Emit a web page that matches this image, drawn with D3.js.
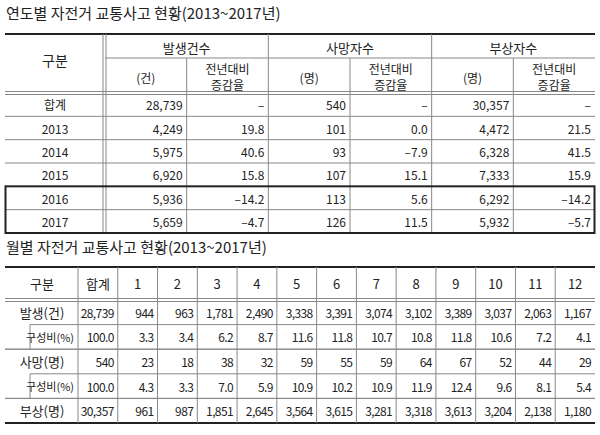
<!DOCTYPE html><html><head><meta charset="utf-8">
<script src="https://cdn.jsdelivr.net/npm/d3@7"></script>
<style>body{margin:0;background:#fff}text{font-family:"Noto Sans CJK KR","Noto Sans",sans-serif;fill:#222}</style></head><body>
<svg id="c" width="600" height="435"></svg>
<script>
// Table 1 data
const title1 = "연도별 자전거 교통사고 현황(2013~2017년)";
const rowLabels1 = ["합계","2013","2014","2015","2016","2017"];
const accidents = ["28,739","4,249","5,975","6,920","5,936","5,659"];
const accRate = ["–","19.8","40.6","15.8","–14.2","–4.7"];
const deaths = ["540","101","93","107","113","126"];
const deathRate = ["–","0.0","–7.9","15.1","5.6","11.5"];
const injuries = ["30,357","4,472","6,328","7,333","6,292","5,932"];
const injRate = ["–","21.5","41.5","15.9","–14.2","–5.7"];
const groups1 = ["발생건수","사망자수","부상자수"];
const units1 = ["(건)","(명)","(명)"];
// Table 2 data
const title2 = "월별 자전거 교통사고 현황(2013~2017년)";
const months = ["합계","1","2","3","4","5","6","7","8","9","10","11","12"];
const rowLabels2 = ["발생(건)","구성비(%)","사망(명)","구성비(%)","부상(명)"];
const mAcc = ["28,739","944","963","1,781","2,490","3,338","3,391","3,074","3,102","3,389","3,037","2,063","1,167"];
const mAccPct = ["100.0","3.3","3.4","6.2","8.7","11.6","11.8","10.7","10.8","11.8","10.6","7.2","4.1"];
const mDeath = ["540","23","18","38","32","59","55","59","64","67","52","44","29"];
const mDeathPct = ["100.0","4.3","3.3","7.0","5.9","10.9","10.2","10.9","11.9","12.4","9.6","8.1","5.4"];
const mInj = ["30,357","961","987","1,851","2,645","3,564","3,615","3,281","3,318","3,613","3,204","2,138","1,180"];

const svg = d3.select("#c");
const G="#888", FS=12;
function line(x1,y1,x2,y2,w=1,c=G){svg.append("line").attr("x1",x1).attr("y1",y1).attr("x2",x2).attr("y2",y2).attr("stroke",c).attr("stroke-width",w);}
function txt(x,y,s,anchor="middle",size=FS){svg.append("text").attr("x",x).attr("y",y).attr("text-anchor",anchor).attr("dominant-baseline","central").attr("font-size",size).text(s);}

// ---- Table 1
txt(6,12,title1,"start",15);
const L=5,R=595;
const top1=34, hMid=58, hBot=93, bot1=233;
const x1 = d3.scaleBand().domain(d3.range(6)).range([105,R]);
const y1 = d3.scaleBand().domain(d3.range(rowLabels1.length)).range([hBot,bot1]);
line(L,top1,R,top1,2,"#222");
txt((L+105)/2,(top1+hBot)/2-4,"구분","middle",14);
groups1.forEach((g,i)=>{txt(x1(2*i)+x1.bandwidth(),(top1+hMid)/2+1,g,"middle",13);
  txt(x1(2*i)+x1.bandwidth()/2,(hMid+hBot)/2+2,units1[i]);
  txt(x1(2*i+1)+x1.bandwidth()/2,(hMid+hBot)/2-7,"전년대비");
  txt(x1(2*i+1)+x1.bandwidth()/2,(hMid+hBot)/2+9,"증감율");
});
line(105,hMid,R,hMid);
line(L,hBot-1.5,R,hBot-1.5);line(L,hBot+1.5,R,hBot+1.5);
line(103,top1,103,bot1);line(106,top1,106,bot1);
d3.range(1,6).forEach(j=>{line(x1(j),j%2?hMid:top1,x1(j),bot1);});
const cols1=[accidents,accRate,deaths,deathRate,injuries,injRate];
rowLabels1.forEach((r,i)=>{
  const yc=y1(i)+y1.bandwidth()/2;
  if(i>0&&i!==4) line(L,y1(i),R,y1(i));
  txt((L+105)/2,yc,r);
  cols1.forEach((c,j)=>txt(x1(j)+x1.bandwidth()-4,yc,c[i],"end"));
});
line(L,bot1,R,bot1,2,"#222");
svg.append("rect").attr("x",L+0.5).attr("y",y1(4)).attr("width",R-L-1).attr("height",bot1-y1(4)).attr("fill","none").attr("stroke","#222").attr("stroke-width",2);

// ---- Table 2
txt(6,246,title2,"start",15);
const top2=267,hb2=300,bot2=423;
const x2 = d3.scaleBand().domain(months).range([78,R]);
const y2 = d3.scaleBand().domain(d3.range(5)).range([hb2,bot2]);
line(L,top2,R,top2,2,"#222");line(L,bot2,R,bot2,2,"#222");
txt(42,(top2+hb2)/2,"구분","middle",13);
months.forEach(m=>txt(x2(m)+x2.bandwidth()/2,(top2+hb2)/2,m,"middle",13));
line(L,hb2-1.5,R,hb2-1.5);line(L,hb2+1.5,R,hb2+1.5);
months.forEach(m=>line(x2(m),top2,x2(m),bot2));
const rows2=[mAcc,mAccPct,mDeath,mDeathPct,mInj];
rowLabels2.forEach((r,i)=>{
  const yc=y2(i)+y2.bandwidth()/2, sub=i%2===1;
  if(i>0) line(sub?30:L,y2(i),R,y2(i));
  if(i===2||i===4) line(L,y2(i),R,y2(i));
  if(sub){line(30,y2(i),30,y2(i)+y2.bandwidth());txt(74,yc,r,"end",11);}
  else txt(42,yc,r,"middle",13);
  rows2[i].forEach((v,j)=>svg.append("text").attr("x",x2(months[j])+x2.bandwidth()-4).attr("y",yc).attr("text-anchor","end").attr("dominant-baseline","central").attr("font-size",12).attr("letter-spacing",-0.6).text(v));
});
</script></body></html>
